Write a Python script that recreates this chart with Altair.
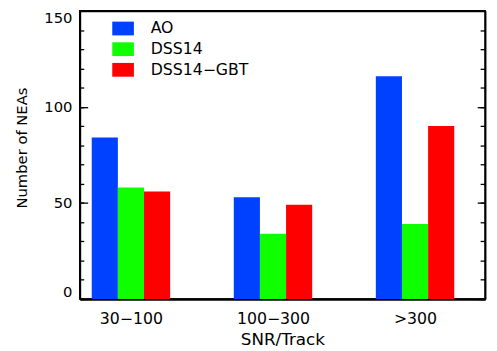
import altair as alt
import pandas as pd

# ---- data ----
categories = ["30−100", "100−300", ">300"]
series = ["AO", "DSS14", "DSS14−GBT"]
ao = [84, 53, 116]
dss14 = [58, 34, 39]
dss14_gbt = [56, 49, 90]
colors = ["#0040ff", "#10ff00", "#ff0000"]

y_major = [0, 50, 100, 150]
y_minor = list(range(0, 151, 10))

# ---- layout constants ----
BW = 0.184          # bar width in group units
W, H = 412, 293
FONT = "DejaVu Sans"

rows = []
for gi, cat in enumerate(categories):
    for si, (name, vals) in enumerate(zip(series, [ao, dss14, dss14_gbt])):
        c = gi + 1 + (si - 1) * BW
        rows.append({"cat": cat, "series": name, "value": vals[gi],
                     "xc": c, "x0": c - BW / 2, "x1": c + BW / 2})
df = pd.DataFrame(rows)
bar_centers = [float(v) for v in df["xc"]]

xs = alt.Scale(domain=[0.640, 3.493], nice=False, zero=False)
ys = alt.Scale(domain=[0, 150], nice=False, zero=False)

label_expr = str(categories) + "[datum.value - 1]"

bars = alt.Chart(df).mark_bar().encode(
    x=alt.X("x0:Q", scale=xs, axis=alt.Axis(
        values=[1, 2, 3], labelExpr=label_expr, title="SNR/Track",
        ticks=False, tickSize=0, grid=False, domainWidth=2.5, domainColor="black",
        labelFont=FONT, labelFontSize=16, labelColor="black",
        labelBaseline="alphabetic", labelPadding=25,
        titleFont=FONT, titleFontSize=17, titleFontWeight="normal", titleColor="black",
        titleX=206, titleY=46, titleAlign="center", titleBaseline="alphabetic")),
    x2="x1:Q",
    y=alt.Y("value:Q", scale=ys, axis=alt.Axis(
        values=y_major, ticks=False, tickSize=0, grid=False,
        domain=True, domainColor="black", domainWidth=1.8,
        labelFlush=True, labelPadding=8,
        labelFont=FONT, labelFontSize=15, labelColor="black",
        title="Number of NEAs", titleFont=FONT, titleFontSize=15,
        titleFontWeight="normal", titleColor="black",
        titleAngle=270, titleX=-59, titleY=139, titleAlign="center",
        titleBaseline="middle")),
    y2=alt.datum(0),
    color=alt.Color("series:N", scale=alt.Scale(domain=series, range=colors),
                    legend=alt.Legend(
                        orient="none", legendX=33, legendY=7, title=None,
                        symbolType="M-1,-0.636H1V0.636H-1Z", symbolSize=484,
                        symbolStrokeWidth=0, symbolOpacity=1,
                        labelFont=FONT, labelFontSize=16, labelColor="black",
                        labelOffset=17, rowPadding=2, padding=0, offset=0)),
)


def tick_layer(x_axis=None, y_axis=None):
    return alt.Chart(df).mark_point(opacity=0).encode(
        x=alt.X("xc:Q", scale=xs, axis=x_axis),
        y=alt.Y("value:Q", scale=ys, axis=y_axis),
    )


def inward(orient, values, length):
    return alt.Axis(orient=orient, values=values, offset=-length, tickSize=length,
                    tickWidth=1.3, tickColor="black", labels=False, domain=False,
                    grid=False, title="")


def frame(orient):
    return alt.Axis(orient=orient, ticks=False, labels=False, grid=False,
                    domain=True, domainColor="black", domainWidth=1.8, title="")


layers = [
    bars,
    tick_layer(y_axis=inward("left", y_major, 8)),
    tick_layer(y_axis=inward("left", y_minor, 4)),
    tick_layer(y_axis=inward("right", y_major, 8)),
    tick_layer(y_axis=inward("right", y_minor, 5)),
    tick_layer(x_axis=inward("bottom", bar_centers, 5)),
    tick_layer(x_axis=frame("top"), y_axis=frame("right")),
]

chart = alt.layer(*layers).resolve_axis(
    x="independent", y="independent"
).properties(
    width=W, height=H,
    background="white",
    autosize=alt.AutoSizeParams(type="none"),
    padding={"left": 73, "top": 0, "right": 4, "bottom": 50},
).configure_view(
    stroke="black", strokeWidth=1.6
)

chart.save("out.html", embed_options={"renderer": "svg", "actions": False})
